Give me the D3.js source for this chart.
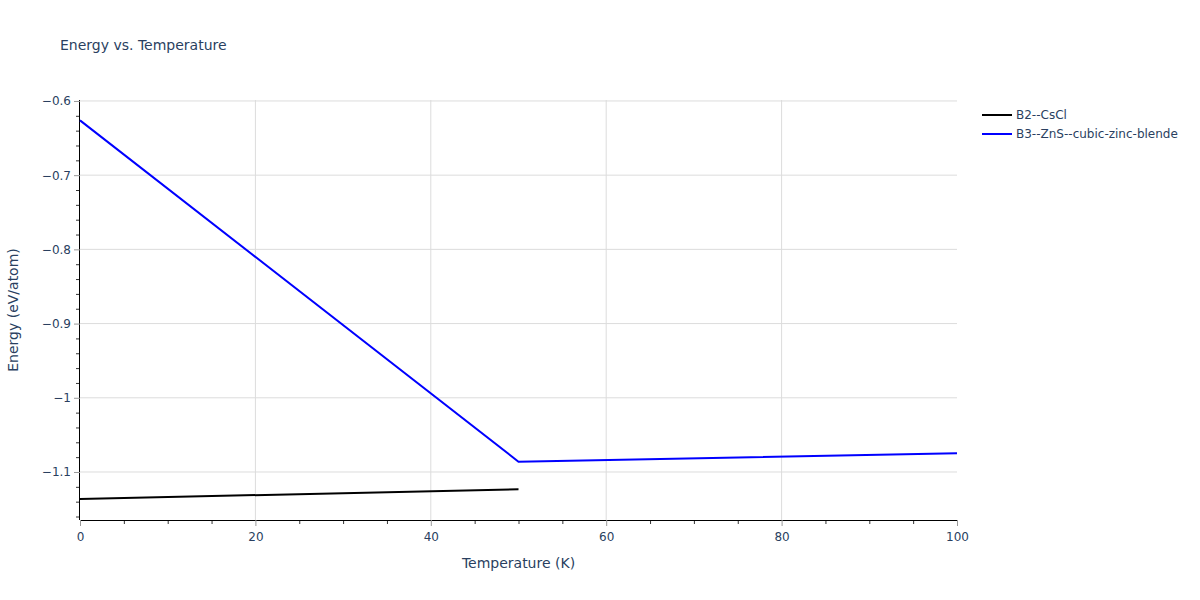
<!DOCTYPE html>
<html>
<head>
<meta charset="utf-8">
<script src="https://cdn.jsdelivr.net/npm/d3@7"></script>
<style>
    body { margin: 0; background: #fff; }
    svg text { font-family: "DejaVu Sans", verdana, arial, sans-serif; fill: #2a3f5f; }
</style>
</head>
<body>
<svg id="svg-main"></svg>
<script>
const TITLE = "Energy vs. Temperature";
const X_TITLE = "Temperature (K)";
const Y_TITLE = "Energy (eV/atom)";

const SERIES_NAMES = ["B2--CsCl", "B3--ZnS--cubic-zinc-blende"];
const SERIES_COLORS = ["#000000", "#0000ff"];

// temperature (K) / energy (eV/atom)
const CSCL_TEMPS = [0, 50];
const CSCL_ENERGY = [-1.1364, -1.1233];
const ZNS_TEMPS = [0, 50, 100];
const ZNS_ENERGY = [-0.6262, -1.0861, -1.0748];

const X_TICKS = [0, 20, 40, 60, 80, 100];
const Y_TICKS = [-0.6, -0.7, -0.8, -0.9, -1, -1.1];
const X_DOMAIN = [0, 100];
const Y_DOMAIN = [-1.1647, -0.5987];

var Dims = {
    MainSvg : { Width: 1200, Height: 600 },
    Margin : { Top: 100, Bottom: 80, Left: 80, Right: 243 }
};
Dims.Plot = {
    Width: Dims.MainSvg.Width - Dims.Margin.Left - Dims.Margin.Right,
    Height: Dims.MainSvg.Height - Dims.Margin.Top - Dims.Margin.Bottom
};

var svg = d3.select("svg#svg-main")
    .attr("width", Dims.MainSvg.Width)
    .attr("height", Dims.MainSvg.Height);

var xScale = d3.scaleLinear().domain(X_DOMAIN).range([0, Dims.Plot.Width]);
var yScale = d3.scaleLinear().domain(Y_DOMAIN).range([Dims.Plot.Height, 0]);

var series = [
    { name: SERIES_NAMES[0], color: SERIES_COLORS[0], pts: CSCL_TEMPS.map((t, i) => [t, CSCL_ENERGY[i]]) },
    { name: SERIES_NAMES[1], color: SERIES_COLORS[1], pts: ZNS_TEMPS.map((t, i) => [t, ZNS_ENERGY[i]]) }
];

drawChart();

function fmt(v) {
    return d3.format("")(v).replace("-", "\u2212");
}

function drawChart() {
    svg.append("text")
        .attr("x", 60)
        .attr("y", 50)
        .style("font-size", "14px")
        .text(TITLE);

    var plot = svg.append("g")
        .attr("transform", `translate(${Dims.Margin.Left},${Dims.Margin.Top})`);

    // grid
    plot.append("g")
        .selectAll("line.vgrid")
        .data(X_TICKS.filter(d => d > X_DOMAIN[0] && d < X_DOMAIN[1]))
        .enter().append("line")
        .attr("x1", d => xScale(d)).attr("x2", d => xScale(d))
        .attr("y1", 0).attr("y2", Dims.Plot.Height)
        .attr("stroke", "#dcdcdc").attr("stroke-width", 1);

    plot.append("g")
        .selectAll("line.hgrid")
        .data(Y_TICKS)
        .enter().append("line")
        .attr("x1", 0).attr("x2", Dims.Plot.Width)
        .attr("y1", d => yScale(d)).attr("y2", d => yScale(d))
        .attr("stroke", "#dcdcdc").attr("stroke-width", 1);

    // minor ticks
    var xMinor = d3.range(X_DOMAIN[0], X_DOMAIN[1] + 0.01, 5).filter(d => d % 20 !== 0);
    var yMinor = d3.range(-1.16, -0.59, 0.02).filter(d => Math.abs(Math.round(d * 10) - d * 10) > 0.01 && d > Y_DOMAIN[0]);

    plot.append("g").call(d3.axisBottom(xScale).tickValues(xMinor).tickSize(4).tickFormat(""))
        .attr("transform", `translate(0,${Dims.Plot.Height})`)
        .call(g => g.select(".domain").remove())
        .call(g => g.selectAll(".tick line").attr("stroke", "#333"));

    plot.append("g").call(d3.axisLeft(yScale).tickValues(yMinor).tickSize(4).tickFormat(""))
        .call(g => g.select(".domain").remove())
        .call(g => g.selectAll(".tick line").attr("stroke", "#333"));

    // major axes
    var xAxis = plot.append("g")
        .attr("transform", `translate(0,${Dims.Plot.Height})`)
        .call(d3.axisBottom(xScale).tickValues(X_TICKS).tickSize(6).tickPadding(6).tickFormat(fmt));
    xAxis.select(".domain").attr("stroke", "#000").attr("d", `M0,0.5H${Dims.Plot.Width}`);
    xAxis.selectAll(".tick line").attr("stroke", "#999");
    xAxis.selectAll(".tick text").style("font-size", "12px").attr("fill", "#2a3f5f");

    var yAxis = plot.append("g")
        .call(d3.axisLeft(yScale).tickValues(Y_TICKS).tickSize(6).tickPadding(3).tickFormat(fmt));
    yAxis.select(".domain").attr("stroke", "#000").attr("d", `M-0.5,0V${Dims.Plot.Height}`);
    yAxis.selectAll(".tick line").attr("stroke", "#999");
    yAxis.selectAll(".tick text").style("font-size", "12px").attr("fill", "#2a3f5f");

    // axis titles
    svg.append("text")
        .attr("x", Dims.Margin.Left + Dims.Plot.Width / 2)
        .attr("y", 568)
        .attr("text-anchor", "middle")
        .style("font-size", "14px")
        .text(X_TITLE);

    svg.append("text")
        .attr("transform", `translate(18,${Dims.Margin.Top + Dims.Plot.Height / 2}) rotate(-90)`)
        .attr("text-anchor", "middle")
        .style("font-size", "14px")
        .text(Y_TITLE);

    // lines
    var line = d3.line().x(d => xScale(d[0])).y(d => yScale(d[1]));
    plot.selectAll("path.series")
        .data(series)
        .enter().append("path")
        .attr("class", "series")
        .attr("d", d => line(d.pts))
        .attr("fill", "none")
        .attr("stroke", d => d.color)
        .attr("stroke-width", 2);

    // legend
    var legend = svg.append("g").attr("transform", "translate(982,115)");
    var items = legend.selectAll("g.item")
        .data(series)
        .enter().append("g")
        .attr("transform", (d, i) => `translate(0,${i * 19})`);
    items.append("line")
        .attr("x1", 0).attr("x2", 30)
        .attr("stroke", d => d.color).attr("stroke-width", 2);
    items.append("text")
        .attr("x", 34).attr("y", 4)
        .style("font-size", "12px")
        .text(d => d.name);
}
</script>
</body>
</html>
